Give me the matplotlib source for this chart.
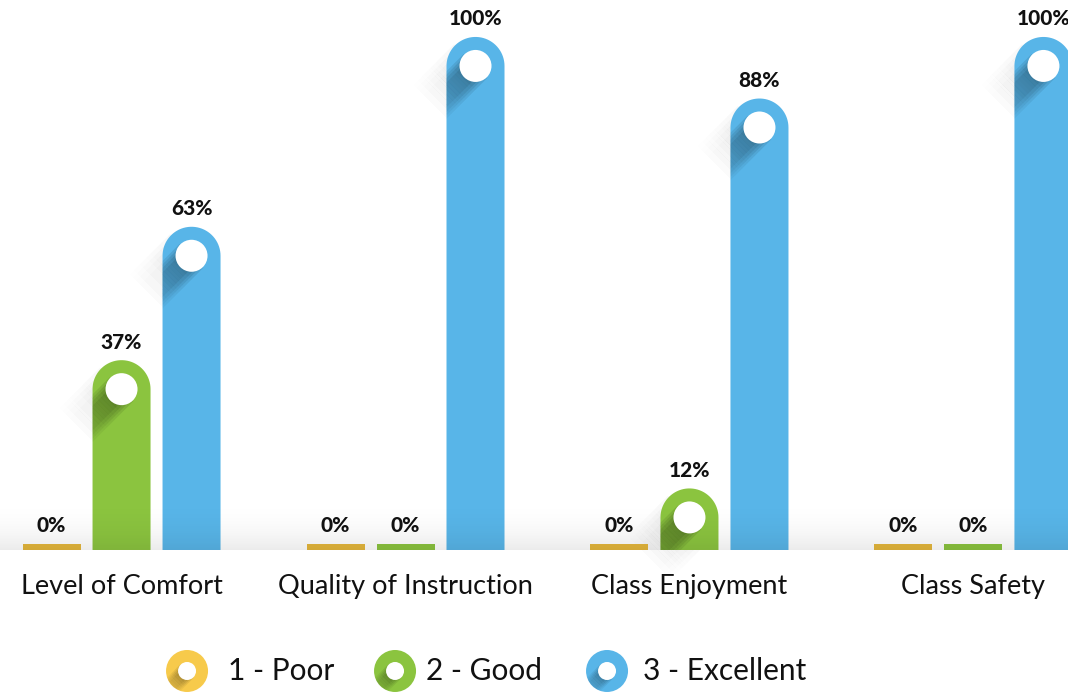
import numpy as np
import matplotlib
matplotlib.use("Agg")
import matplotlib.pyplot as plt
from matplotlib.patches import PathPatch, Ellipse, Polygon
from matplotlib.path import Path

# ── Datos ────────────────────────────────────────────────────────────────────
categorias = ["Level of Comfort", "Quality of Instruction", "Class Enjoyment", "Class Safety"]
series = ["1 - Poor", "2 - Good", "3 - Excellent"]
poor = [0, 0, 0, 0]
good = [37, 0, 12, 0]
excellent = [63, 100, 88, 100]

colores_barra = ["#E5B73C", "#8BC43F", "#58B5E8"]
colores_leyenda = ["#F7CA4B", "#8BC43F", "#58B5E8"]

# ── Figura: los ejes ocupan todo el lienzo ──────────────────────────────────
W, H = 1068, 692
fig = plt.figure(figsize=(W / 100, H / 100), dpi=100)
ax = fig.add_axes([0, 0, 1, 1])
X0, X1 = -0.428, 3.333
Y0, Y1 = -27.68, 107.2
ax.set_xlim(X0, X1)
ax.set_ylim(Y0, Y1)
ax.axis("off")

PX = W / (X1 - X0)   # píxeles por unidad en x
PY = H / (Y1 - Y0)   # píxeles por unidad en y

sep = 70 / PX        # distancia entre barras de un grupo
ancho = 58 / PX
r_cap = 29           # radio del remate redondo (px)
r_blanco = 16
stub = 6 / PY        # barra mínima para los 0 %

FUENTE = ["Lato", "DejaVu Sans"]


def dx(p):
    return p / PX


def dy(p):
    return p / PY


def barra_redonda(c, v):
    """Camino de una barra con la parte superior semicircular."""
    ry = dy(r_cap)
    y_c = max(v - ry, 0)
    t = np.linspace(0, np.pi, 40)
    xs = c + (ancho / 2) * np.cos(t)
    ys = y_c + ry * np.sin(t)
    verts = [(c + ancho / 2, 0)] + list(zip(xs, ys)) + [(c - ancho / 2, 0), (c + ancho / 2, 0)]
    codes = [Path.MOVETO] + [Path.LINETO] * (len(verts) - 2) + [Path.CLOSEPOLY]
    return Path(verts, codes), y_c


def sombra_larga(cx, cy, radio, largo, alfa, clip=None, z=2, color="black", pasos=30):
    """Sombra diagonal (abajo-izquierda) que se desvanece, con bordes suaves."""
    d = np.array([-1, -1]) / np.sqrt(2)
    n = np.array([1, -1]) / np.sqrt(2)
    for frac in (0.55, 0.75, 0.9, 1.05):
        r = radio * frac
        for i in range(pasos):
            t0 = largo * i / pasos
            t1 = largo * (i + 1) / pasos
            a = alfa / 4 * (1 - i / pasos) ** 1.2
            pts = []
            for t, s in [(t0, r), (t1, r), (t1, -r), (t0, -r)]:
                px = d * t + n * s
                pts.append((cx + dx(px[0]), cy + dy(px[1])))
            p = Polygon(pts, closed=True, facecolor=color, edgecolor="none", alpha=a, zorder=z)
            ax.add_patch(p)
            if clip is not None:
                p.set_clip_path(clip)


# Suelo: degradado suave sobre la línea base
alto_suelo = dy(55)
grad = np.linspace(1, 0, 64)[:, None] ** 2.2
img = np.zeros((64, 256, 4))
img[..., 3] = grad * 0.08
ax.imshow(img, extent=(X0, X1, 0, alto_suelo), origin="lower", aspect="auto",
          zorder=5, interpolation="bilinear")

for k, valores in enumerate([poor, good, excellent]):
    for i, v in enumerate(valores):
        c = i + (k - 1) * sep
        if v == 0:
            ax.bar(c, stub, width=ancho, bottom=0, color=colores_barra[k], zorder=3)
            tope = stub
        else:
            camino, y_c = barra_redonda(c, v)
            # sombra exterior del remate sobre el fondo
            sombra_larga(c, y_c, r_cap, 60, 0.2, z=1, color="#666666", pasos=20)
            parche = PathPatch(camino, facecolor=colores_barra[k], edgecolor="none", zorder=3)
            ax.add_patch(parche)
            # sombra del círculo blanco dentro de la barra
            sombra_larga(c, y_c, r_blanco, 85, 0.42, clip=parche, z=4, pasos=25)
            ax.add_patch(Ellipse((c, y_c), 2 * dx(r_blanco), 2 * dy(r_blanco),
                                 facecolor="white", edgecolor="none", zorder=6))
            tope = v
        ax.text(c, tope + dy(18), f"{v}%", ha="center", va="center", fontsize=15,
                fontweight="black", family=FUENTE, color="#111111", zorder=7)

# Etiquetas de categoría bajo cada grupo
for i, nombre in enumerate(categorias):
    ax.text(i, -dy(37), nombre, ha="center", va="center", fontsize=19.5,
            family=FUENTE, color="#111111")

# Leyenda con círculos
leyenda_x = [187, 395, 607]
texto_x = [228, 426, 643]
ly = -dy(121)
for k, nombre in enumerate(series):
    lx = (leyenda_x[k] - 121.5) / PX
    circ = Ellipse((lx, ly), 2 * dx(21), 2 * dy(21), facecolor=colores_leyenda[k],
                   edgecolor="none", zorder=3)
    ax.add_patch(circ)
    sombra_larga(lx, ly, 9, 30, 0.4, clip=circ, z=4, pasos=12)
    ax.add_patch(Ellipse((lx, ly), 2 * dx(9), 2 * dy(9), facecolor="white",
                         edgecolor="none", zorder=6))
    ax.text((texto_x[k] - 121.5) / PX, ly, nombre, ha="left", va="center",
            fontsize=21.5, family=FUENTE, color="#111111")

fig.savefig("out.png", dpi=100, facecolor="white")
